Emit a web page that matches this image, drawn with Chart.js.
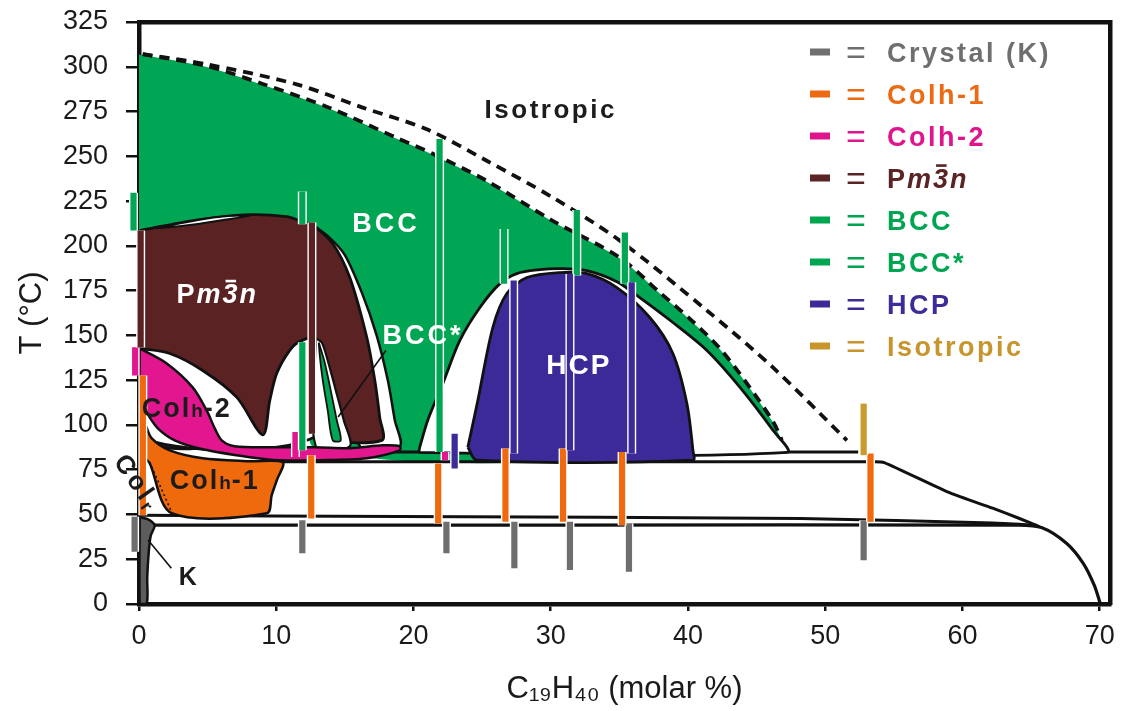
<!DOCTYPE html>
<html lang="en">
<head>
  <meta charset="UTF-8">
  <title>C19H40 phase diagram</title>
  <script src="https://cdn.jsdelivr.net/npm/chart.js"></script>
  <style>
    body { margin: 0; background: #fff; }
    canvas { display: block; }
  </style>
</head>
<body>
<canvas id="phaseChart" width="1121" height="711"></canvas>
<script>
// axis ticks
const xTicks = [0, 10, 20, 30, 40, 50, 60, 70];
const yTicks = [0, 25, 50, 75, 100, 125, 150, 175, 200, 225, 250, 275, 300, 325];

// phase areas, points are [C19H40 molar %, T in °C]
const bccArea = [[0, 306.8], [0.27, 306.6], [4.93, 299.9], [9.02, 289.9], [13.9, 276.5], [18.78, 259.8], [21.41, 250.9],
  [25.34, 235.8], [30.15, 213.5], [35.04, 192.9], [37.95, 173.4], [40.28, 157.8], [42.33, 142.2], [44.29, 122.7],
  [46.19, 101.5], [46.84, 91.0], [47.2, 84.7], [13, 86.5], [13, 150], [0, 150]];
const gapRightOfPm3n = [[12.66, 211.8], [13.9, 204.5], [14.99, 195.0], [16.23, 174.0], [17.32, 149.9], [18.13, 124.9],
  [18.64, 102.6], [19.0, 88.1], [16.09, 88.1], [12.66, 169.5]];
const pm3nArea = [[0.05, 208.5], [0.78, 209.6], [4.42, 214.6], [8.07, 217.4], [10.77, 216.3], [11.71, 214.0], [12.66, 211.3],
  [14.12, 201.2], [15.36, 182.3], [16.6, 148.8], [17.18, 124.9], [17.54, 104.2], [17.69, 91.4], [12.88, 91.4],
  [12.88, 93.6], [0.05, 93.6]];
const lensTop = [[1.2, 209.8], [4.42, 214.6], [6.5, 216.6], [8.3, 217.2], [6.5, 214.8], [4.42, 212.4], [2.0, 210.2]];
const archLeft = [[0.05, 142.7], [2.24, 139.9], [4.64, 130.4], [7.13, 115.4], [9.02, 94.5], [9.53, 113.7], [10.04, 128.8],
  [10.98, 141.6], [11.71, 146.6], [12.88, 148.3], [12.88, 93.6], [0.05, 93.6]];
const archRight = [[12.88, 148.3], [13.32, 146.0], [13.75, 136.0], [14.34, 119.3], [14.92, 102.6], [15.36, 88.1], [12.88, 88.1]];
const bccStarArea = [[13.1, 146.0], [13.53, 134.9], [13.97, 119.3], [14.41, 102.6], [14.7, 91.4], [14.12, 91.4],
  [13.75, 108.1], [13.39, 124.9], [13.17, 138.8]];
const hcpEnvelope = [[20.45, 87.5], [21.04, 102.6], [22.14, 123.2], [23.38, 147.2], [24.84, 165.6], [26.3, 178.9],
  [27.53, 184.5], [29.2, 186.7], [30.65, 187.3], [32.63, 186.2], [34.82, 180.0], [36.49, 171.1], [38.9, 157.2],
  [41.38, 141.6], [43.79, 121.0], [46.19, 97.0], [47.2, 84.7], [20.45, 84.7]];
const hcpArea = [[23.96, 87.5], [24.69, 113.7], [25.78, 154.4], [26.8, 173.4], [28.26, 182.3], [30.67, 185.1],
  [32.64, 184.5], [34.82, 176.7], [37.22, 160.0], [38.9, 139.9], [39.92, 112.0], [40.36, 85.8], [40.36, 80.3], [24.62, 80.3]];
const colh1Area = [[0.49, 99.8], [0.93, 92.5], [2.24, 85.8], [4.65, 81.4], [8.07, 79.7], [10.47, 79.1], [10.04, 69.1],
  [9.67, 60.8], [9.31, 50.7], [2.38, 50.7], [0.78, 78.6], [0.49, 81.4]];
const colh2Area = [[0.05, 142.7], [2.02, 134.3], [3.91, 121.0], [4.93, 108.1], [5.52, 98.1], [6.03, 91.4], [6.97, 88.1],
  [9.53, 87.5], [12.88, 87.5], [15.36, 87.0], [17.77, 88.6], [19.0, 88.1], [19.0, 85.8], [16.6, 81.4], [12.95, 80.3],
  [10.25, 80.3], [8.07, 82.0], [4.65, 86.4], [2.6, 91.4], [1.37, 98.1], [0.63, 106.0], [0.05, 113.7]];
const crystalArea = [[0.05, 48.5], [0.63, 47.4], [1.14, 44.0], [0.85, 38.0], [0.7, 28.0], [0.6, 15.0], [0.56, 0], [0.05, 0]];

// transition lines
const line85 = [[12.9, 84.9], [52.4, 84.9]];
const line80 = [[10.4, 79.4], [53.6, 79.4], [54.3, 79.0], [59.1, 62.0], [62.2, 53.5], [64.2, 47.6], [65.6, 43.2]];
const line50 = [[0.05, 49.6], [19.0, 48.8], [48.2, 47.8], [62.2, 45.2], [65.4, 44.0]];
const line45 = [[0.05, 44.0], [30, 44.0], [64.0, 44.0], [65.8, 42.6], [67.6, 33.8], [68.8, 22.7], [69.6, 10.5], [70.05, 0]];
const bccClearing = [[0.27, 307.1], [4.93, 300.4], [9.02, 290.4], [13.9, 277.0], [18.78, 260.3], [21.41, 251.4],
  [25.34, 236.3], [30.15, 214.0], [35.04, 193.4], [37.95, 173.9], [40.28, 158.3], [42.33, 142.7], [44.29, 123.2],
  [46.19, 102.0], [46.84, 91.4]];
const isoClearing = [[0.27, 307.1], [4.94, 301.4], [11.49, 290.2], [16.3, 277.2], [20.97, 265.1], [25.34, 247.5],
  [30.15, 227.0], [35.04, 202.9], [41.38, 163.9], [46.19, 132.1], [51.58, 91.4]];
const colrBoundary = [[0.78, 79.2], [2.38, 51.3]];
const bccStarPointer = [[17.99, 141.6], [14.51, 104.4]];
const kPointer = [[0.66, 35.7], [2.36, 19.9]];

// measured phases per sample, [molar %, T low, T high]
const crystalBars = [[11.9, 28.3, 46.8], [22.4, 28.3, 45.9], [27.35, 19.9, 45.9], [31.4, 19.0, 45.9],
  [35.7, 18.0, 45.0], [52.8, 24.5, 46.8], [-0.32, 29.2, 48.7]];
const colh1Bars = [[12.55, 47.8, 83.1], [21.8, 45.0, 78.4], [26.7, 45.9, 86.8], [30.9, 45.9, 86.8],
  [35.2, 44.0, 84.9], [53.3, 45.9, 84.0], [0.28, 49.6, 127.6]];
const colh2Bars = [[11.4, 82.1, 96.0], [22.3, 80.3, 84.9], [-0.28, 127.6, 143.4]];
const pm3nBars = [[12.6, 95.1, 213.1], [0.12, 143.3, 208.5]];
const bccBars = [[11.9, 212.1, 230.4], [21.9, 84.9, 259.6], [26.6, 178.8, 209.4],
  [31.9, 183.4, 220.0], [35.4, 178.8, 207.5], [-0.4, 208.5, 229.7]];
const bccStarBars = [[11.9, 85.8, 146.2]];
const hcpBars = [[23.0, 75.6, 95.1], [27.3, 84.0, 180.6], [31.4, 85.8, 184.3], [35.9, 84.0, 179.7]];
const isoBars = [[52.8, 83.1, 111.9]];

const legendNames = ['Crystal (K)', 'Colh-1', 'Colh-2', 'Pm3n', 'BCC', 'BCC*', 'HCP', 'Isotropic'];
const legendColors = ['#6f6f6f', '#ec6a12', '#e0158e', '#5a2424', '#00a551', '#00a551', '#3c2c98', '#c8952d'];

const FF = '"Liberation Sans", Arial, sans-serif';
const GREEN = '#00a653', BROWN = '#5a2222', BLUE = '#3c2a98', MAGENTA = '#e2168e', ORANGE = '#ee6a0c';

const pts = arr => arr.map(([x, y]) => ({x, y}));

function area(arr, color, edge) {
  return {
    data: pts(arr.concat([arr[0]])), fill: 'shape', backgroundColor: color,
    borderColor: edge ? '#111' : 'rgba(0,0,0,0)', borderWidth: edge || 0,
    borderJoinStyle: 'round', tension: 0.3, pointRadius: 0
  };
}

function curve(arr, width, dash, tension) {
  return {
    data: pts(arr), fill: false, borderColor: '#111', borderWidth: width, borderDash: dash || [],
    tension: tension === undefined ? 0.3 : tension, pointRadius: 0
  };
}

// each bar is a short vertical segment; gaps split them
function bars(list, color, width) {
  const data = [];
  list.forEach(([x, lo, hi]) => data.push({x, y: lo}, {x, y: hi}, {x, y: null}));
  return {
    data, fill: false, borderColor: color, borderWidth: width, borderCapStyle: 'butt',
    tension: 0, pointRadius: 0, spanGaps: false, clip: false
  };
}

const datasets = [
  area(bccArea, GREEN, 0),
  area(gapRightOfPm3n, '#fff', 2.5),
  area(pm3nArea, BROWN, 2.8),
  area(lensTop, '#fff', 2),
  area(archLeft, '#fff', 2.8),
  area(archRight, '#fff', 2.2),
  area(bccStarArea, GREEN, 1.8),
  curve(line85, 3, null, 0),
  curve(line80, 3, null, 0.2),
  curve(line50, 3, null, 0.2),
  curve(line45, 3.2, null, 0.3),
  area(hcpEnvelope, '#fff', 2.8),
  area(hcpArea, BLUE, 2.8),
  area(colh1Area, ORANGE, 2.5),
  area(colh2Area, MAGENTA, 2.5),
  area(crystalArea, '#5c5c5c', 2.5),
  curve(bccClearing, 3.8, [10, 7]),
  curve(isoClearing, 3.8, [10, 7]),
  curve(colrBoundary, 1.6, [2, 3], 0),
  curve(bccStarPointer, 1.6, null, 0),
  curve(kPointer, 1.6, null, 0)
];

[[crystalBars, '#6e6e6e'], [colh1Bars, ORANGE], [colh2Bars, MAGENTA], [pm3nBars, BROWN],
 [bccBars, GREEN], [bccStarBars, GREEN], [hcpBars, BLUE], [isoBars, '#c99a2e']].forEach(([list, color]) => {
  datasets.push(bars(list, '#fff', 9));
  datasets.push(bars(list, color, 6.2));
});
datasets.forEach((d, i) => { d.order = -i; });

function richText(ctx, parts, x, y, align) {
  let total = 0;
  parts.forEach(p => {
    ctx.font = p.font;
    ctx.letterSpacing = p.ls || '0px';
    p.w = ctx.measureText(p.t).width;
    total += p.w;
  });
  let cx = align === 'center' ? x - total / 2 : x;
  parts.forEach(p => {
    ctx.font = p.font;
    ctx.letterSpacing = p.ls || '0px';
    ctx.fillText(p.t, cx, y + (p.dy || 0));
    if (p.bar) ctx.fillRect(cx + p.w * 0.18, y - p.bar, p.w * 0.62, 2.6);
    cx += p.w;
  });
}

function pm3nParts(size, ls) {
  const it = `italic bold ${size}px ${FF}`;
  return [
    {t: 'P', font: `bold ${size}px ${FF}`, ls},
    {t: 'm', font: it, ls},
    {t: '3', font: it, ls, bar: size * 0.72 + 4},
    {t: 'n', font: it, ls}
  ];
}

const bold = (s, ls, t) => ({t, font: `bold ${s}px ${FF}`, ls});
const regionLabels = [
  {at: [30.0, 276.5], size: 26, color: '#1c1c1c', parts: [bold(26, '2.5px', 'Isotropic')]},
  {at: [18.0, 213.1], size: 27, color: '#fff', parts: [bold(27, '3px', 'BCC')]},
  {at: [20.7, 150.5], size: 27, color: '#fff', parts: [bold(27, '3px', 'BCC*')]},
  {at: [5.7, 173.4], size: 27, color: '#fff', parts: pm3nParts(27, '2px')},
  {at: [32.05, 134.3], size: 28, color: '#fff', parts: [bold(28, '2px', 'HCP')]},
  {at: [0.2, 109.8], size: 27, color: '#1c1c1c', align: 'left',
    parts: [bold(27, '2px', 'Col'), bold(19, '1px', 'h'), bold(27, '2px', '-2')]},
  {at: [2.24, 69.7], size: 27, color: '#1c1c1c', align: 'left',
    parts: [bold(27, '2px', 'Col'), bold(19, '1px', 'h'), bold(27, '2px', '-1')]},
  {at: [3.55, 15.6], size: 25, color: '#1c1c1c', parts: [bold(25, '0px', 'K')]}
];

const phaseLabels = {
  id: 'phaseLabels',
  afterDraw(chart) {
    const {ctx, chartArea, scales: {x, y}} = chart;
    ctx.save();
    ctx.textBaseline = 'alphabetic';
    regionLabels.forEach(l => {
      ctx.fillStyle = l.color;
      const px = x.getPixelForValue(l.at[0]);
      const py = y.getPixelForValue(l.at[1]) + l.size * 0.36;
      richText(ctx, l.parts, px, py, l.align || 'center');
    });

    // rotated Col r label
    ctx.save();
    ctx.translate(x.getPixelForValue(-1.9), y.getPixelForValue(79.5));
    ctx.rotate(55 * Math.PI / 180);
    ctx.fillStyle = '#1c1c1c';
    richText(ctx, [bold(26, '3.5px', 'Col'), {t: 'r', font: `bold 18px ${FF}`, dy: 4}], 0, 0, 'left');
    ctx.restore();

    // legend
    const lx = chartArea.right - 300, ly = chartArea.top + 30;
    legendNames.forEach((name, i) => {
      const yy = ly + i * 42;
      ctx.fillStyle = legendColors[i];
      ctx.fillRect(lx, yy - 3.5, 20, 7);
      ctx.font = `34px ${FF}`;
      ctx.letterSpacing = '0px';
      ctx.fillText('=', lx + 36, yy + 11.5);
      const parts = name === 'Pm3n' ? pm3nParts(27, '2px') : [bold(27, '2.5px', name)];
      richText(ctx, parts, lx + 77, yy + 9.7, 'left');
    });
    ctx.restore();
  }
};

const frame = {display: true, width: 4.5, color: '#111'};
const tickGrid = len => ({display: true, drawOnChartArea: false, drawTicks: true, tickLength: len,
  tickWidth: 2.5, lineWidth: 2.5, tickColor: '#111', color: '#111'});

new Chart(document.getElementById('phaseChart'), {
  type: 'line',
  data: {datasets},
  options: {
    responsive: false,
    animation: false,
    events: [],
    layout: {padding: 0},
    plugins: {legend: {display: false}, tooltip: {enabled: false}},
    scales: {
      x: {
        type: 'linear', position: 'bottom', min: 0, max: 70.75, z: 1,
        afterBuildTicks: a => { a.ticks = xTicks.map(v => ({value: v})); },
        afterFit: a => { a.height = 107; a.paddingLeft = 0; a.paddingRight = 0; },
        grid: tickGrid(7), border: frame,
        ticks: {font: {family: FF, size: 27}, color: '#1a1a1a', padding: 9, maxRotation: 0},
        title: {display: true, text: 'C\u2081\u2089H\u2084\u2080 (molar %)', color: '#1a1a1a',
          font: {family: FF, size: 31}, padding: {top: 0, bottom: 3}}
      },
      y: {
        type: 'linear', position: 'left', min: 0, max: 325, z: 1,
        afterBuildTicks: a => { a.ticks = yTicks.map(v => ({value: v})); },
        afterFit: a => { a.width = 139; a.paddingTop = 0; a.paddingBottom = 0; },
        grid: tickGrid(13), border: frame,
        ticks: {font: {family: FF, size: 27}, color: '#1a1a1a', padding: 18},
        title: {display: true, text: 'T (\u00b0C)', color: '#1a1a1a',
          font: {family: FF, size: 31}, padding: {top: 14, bottom: 0}}
      },
      x2: {
        type: 'linear', position: 'top', min: 0, max: 70.75, z: 1,
        afterFit: a => { a.height = 22; a.paddingLeft = 0; a.paddingRight = 0; },
        grid: {display: false, drawTicks: false}, border: frame, ticks: {display: false}
      },
      y2: {
        type: 'linear', position: 'right', min: 0, max: 325, z: 1,
        afterFit: a => { a.width = 11; a.paddingTop = 0; a.paddingBottom = 0; },
        grid: {display: false, drawTicks: false}, border: frame, ticks: {display: false}
      }
    }
  },
  plugins: [phaseLabels]
});
</script>
</body>
</html>
